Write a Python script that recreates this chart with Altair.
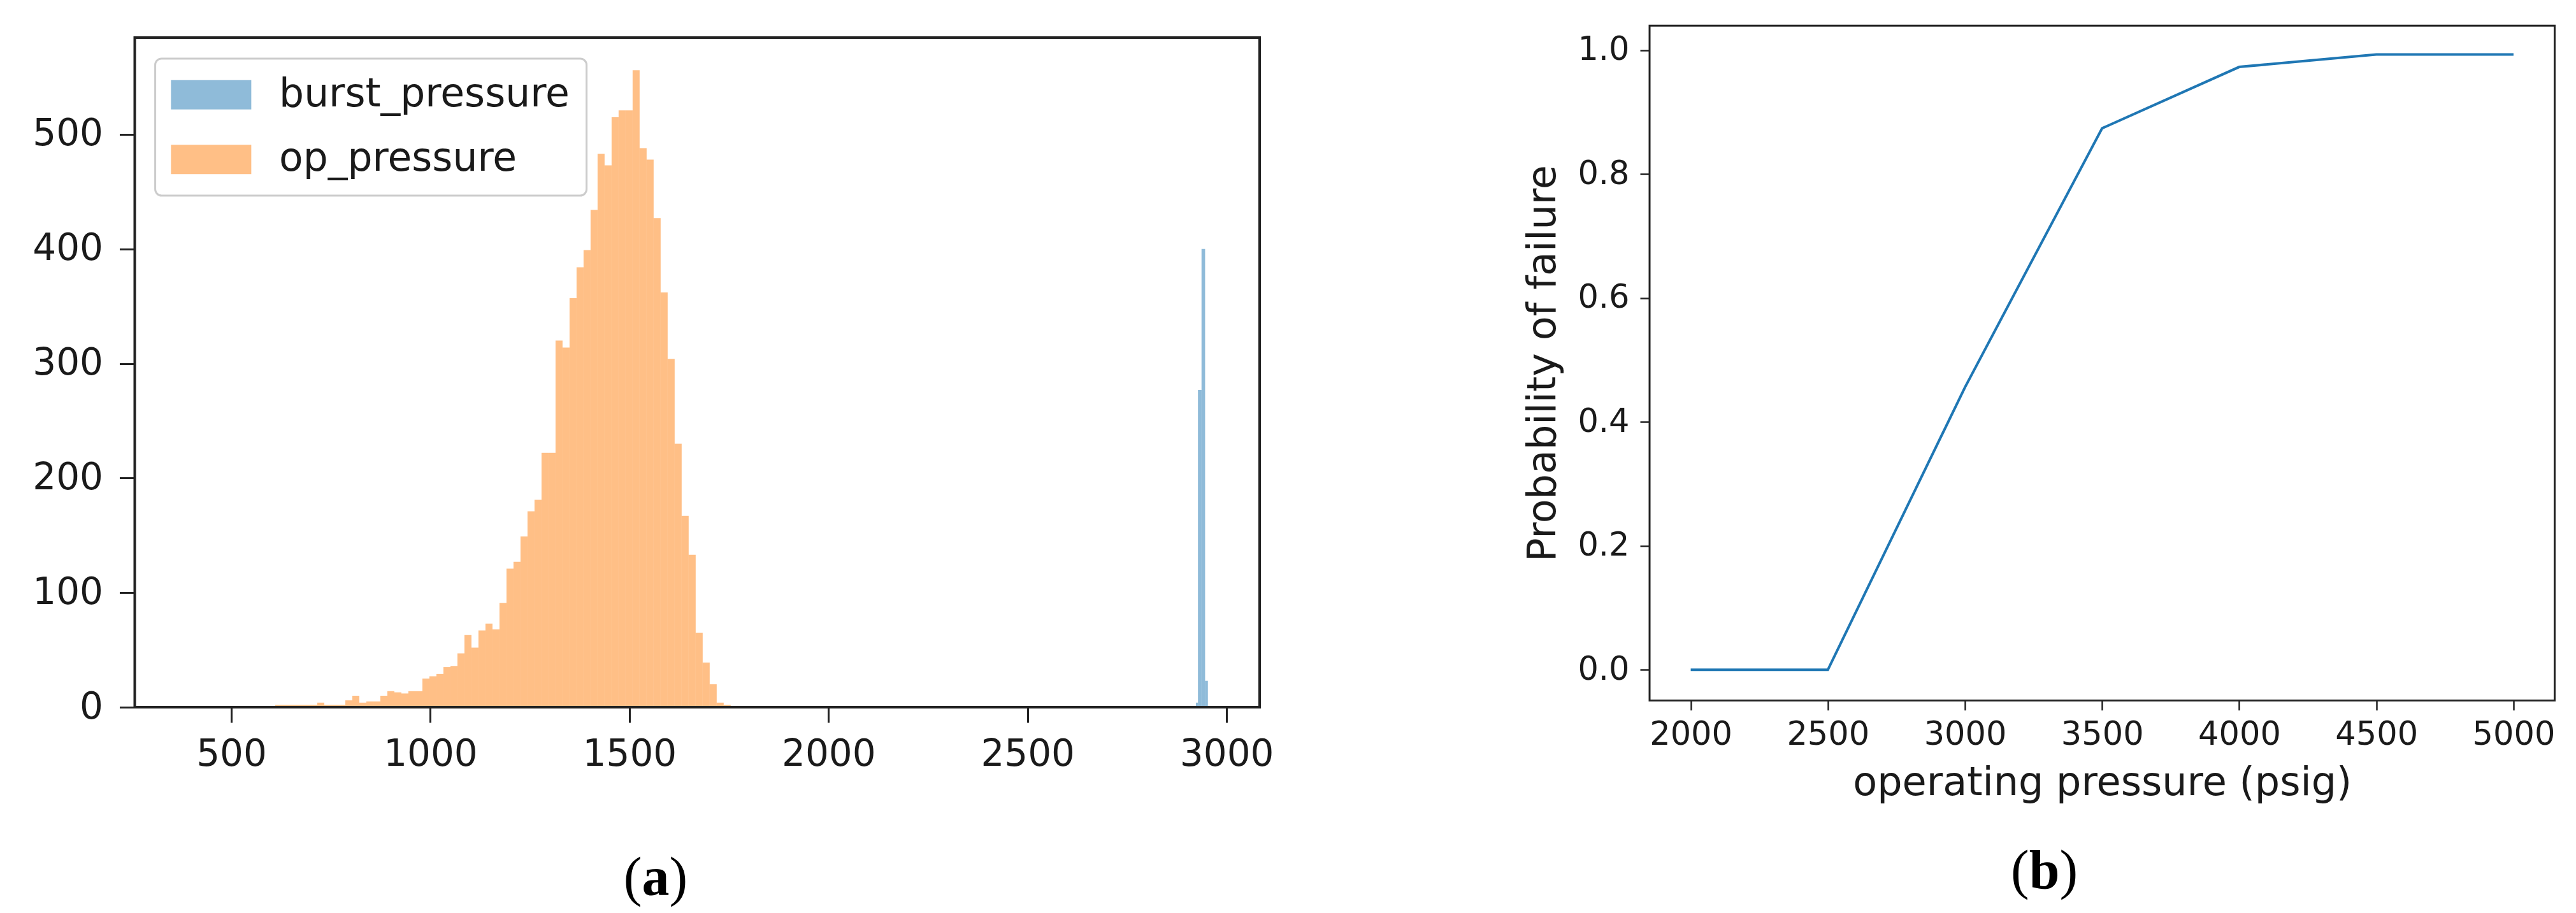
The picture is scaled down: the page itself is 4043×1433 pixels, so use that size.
import altair as alt
import pandas as pd

# ---------------- data: panel (a) histogram ----------------
series_names = ["burst_pressure", "op_pressure"]
series_colors = ["#1f77b4", "#ff7f0e"]

op_bin_start = 610.4
op_bin_width = 17.6
op_counts = [2, 2, 2, 2, 2, 2, 4, 2, 2, 2,
             6, 10, 4, 5, 5, 10, 14, 13, 12, 14,
             14, 25, 27, 29, 35, 36, 47, 63, 52, 67,
             73, 68, 91, 121, 127, 149, 171, 181, 222, 222,
             320, 314, 357, 384, 399, 434, 483, 473, 515, 521,
             521, 556, 488, 478, 427, 362, 304, 230, 167, 133,
             65, 39, 20, 4, 2]

burst_lo = [2923, 2928, 2937, 2946]
burst_hi = [2928, 2937, 2946, 2953]
burst_counts = [4, 277, 400, 23]

hist_x_limits = [257.5, 3083.0]
hist_y_limits = [0, 584.5]
hist_x_ticks = [500, 1000, 1500, 2000, 2500, 3000]
hist_y_ticks = [0, 100, 200, 300, 400, 500]

# ---------------- data: panel (b) line ----------------
op_pressure_psig = [2000, 2500, 3000, 3500, 4000, 4500, 5000]
prob_failure = [0.0, 0.0, 0.456, 0.874, 0.973, 0.993, 0.993]
pf_x_limits = [1850, 5150]
pf_y_limits = [-0.0497, 1.0397]
pf_x_ticks = [2000, 2500, 3000, 3500, 4000, 4500, 5000]
pf_y_ticks = [0.0, 0.2, 0.4, 0.6, 0.8, 1.0]

# ---------------- layout (pixels inside the chart) ----------------
W, H = 4027, 1417
A_X = [203.5, 1969.0]
A_Y = [1102.0, 51.0]
B_X = [2581.0, 4001.5]
B_Y = [1091.6, 32.2]

SANS = "DejaVu Sans"
SERIF = "Liberation Serif"
TXT = "#1a1a1a"
SPINE = "#222222"

rows = []
for lo, hi, c in zip(burst_lo, burst_hi, burst_counts):
    rows.append({"series": "burst_pressure", "lo": lo, "hi": hi, "count": c, "base": 0})
for i, c in enumerate(op_counts):
    lo = op_bin_start + i * op_bin_width
    rows.append({"series": "op_pressure", "lo": lo, "hi": lo + op_bin_width, "count": c, "base": 0})
hist_df = pd.DataFrame(rows)

ax_scale_a = alt.Scale(domain=hist_x_limits, range=A_X, nice=False, zero=False)
ay_scale_a = alt.Scale(domain=hist_y_limits, range=A_Y, nice=False, zero=False)
ax_scale_b = alt.Scale(domain=pf_x_limits, range=B_X, nice=False, zero=False)
ay_scale_b = alt.Scale(domain=pf_y_limits, range=B_Y, nice=False, zero=False)

# wide legend patch (126 x 46 px): unit path scaled by sqrt(size)/2 = 23
legend_shape = "M-2.74,-1H2.74V1H-2.74Z"

hist = alt.Chart(hist_df).mark_rect(fillOpacity=0.5, strokeWidth=0).encode(
    x=alt.X("lo:Q", scale=ax_scale_a,
            axis=alt.Axis(orient="bottom", offset=A_Y[0] - H, values=hist_x_ticks, format="d",
                          domain=False, grid=False, tickSize=24, tickWidth=3, tickColor=SPINE,
                          labelFont=SANS, labelFontSize=58, labelColor=TXT, labelPadding=21,
                          labelFlush=False, labelOverlap=False, title=None)),
    x2="hi:Q",
    y=alt.Y("count:Q", scale=ay_scale_a,
            axis=alt.Axis(orient="left", offset=-A_X[0], values=hist_y_ticks, format="d",
                          domain=False, grid=False, tickSize=24, tickWidth=3, tickColor=SPINE,
                          labelFont=SANS, labelFontSize=58, labelColor=TXT, labelPadding=26,
                          labelFlush=False, labelOverlap=False, title=None)),
    y2="base:Q",
    color=alt.Color("series:N",
                    scale=alt.Scale(domain=series_names, range=series_colors),
                    legend=alt.Legend(title=None, orient="none", legendX=235.6, legendY=84,
                                      direction="vertical", padding=26,
                                      fillColor="white", strokeColor="#cccccc",
                                      symbolType=legend_shape, symbolSize=2116,
                                      symbolOffset=31,
                                      symbolOpacity=0.5, symbolStrokeWidth=0,
                                      labelFont=SANS, labelFontSize=61.5, labelColor=TXT,
                                      labelOffset=76, labelLimit=2000)),
)

frame_a_df = pd.DataFrame({"x0": [hist_x_limits[0]], "x1": [hist_x_limits[1]],
                           "y0": [hist_y_limits[0]], "y1": [hist_y_limits[1]]})
frame_a = alt.Chart(frame_a_df).mark_rect(fillOpacity=0, stroke=SPINE, strokeWidth=4).encode(
    x=alt.X("x0:Q", scale=ax_scale_a, axis=None),
    x2="x1:Q",
    y=alt.Y("y0:Q", scale=ay_scale_a, axis=None),
    y2="y1:Q",
)

pf_df = pd.DataFrame({"pressure": op_pressure_psig, "pf": prob_failure})
line = alt.Chart(pf_df).mark_line(color="#1f77b4", strokeWidth=4).encode(
    x=alt.X("pressure:Q", scale=ax_scale_b,
            axis=alt.Axis(orient="bottom", offset=B_Y[0] - H, values=pf_x_ticks, format="d",
                          domain=False, grid=False, tickSize=15, tickWidth=2.5, tickColor=SPINE,
                          labelFont=SANS, labelFontSize=51, labelColor=TXT, labelPadding=13.5,
                          labelFlush=False, labelOverlap=False,
                          title="operating pressure (psig)", titleFont=SANS, titleFontSize=62,
                          titleFontWeight="normal", titleColor=TXT, titlePadding=20)),
    y=alt.Y("pf:Q", scale=ay_scale_b,
            axis=alt.Axis(orient="left", offset=-B_X[0], values=pf_y_ticks, format=".1f",
                          domain=False, grid=False, tickSize=15, tickWidth=2.5, tickColor=SPINE,
                          labelFont=SANS, labelFontSize=51, labelColor=TXT, labelPadding=17,
                          labelFlush=False, labelOverlap=False,
                          title="Probability of failure", titleFont=SANS, titleFontSize=62,
                          titleFontWeight="normal", titleColor=TXT, titlePadding=22)),
)

frame_b_df = pd.DataFrame({"x0": [pf_x_limits[0]], "x1": [pf_x_limits[1]],
                           "y0": [pf_y_limits[0]], "y1": [pf_y_limits[1]]})
frame_b = alt.Chart(frame_b_df).mark_rect(fillOpacity=0, stroke=SPINE, strokeWidth=3).encode(
    x=alt.X("x0:Q", scale=ax_scale_b, axis=None),
    x2="x1:Q",
    y=alt.Y("y0:Q", scale=ay_scale_b, axis=None),
    y2="y1:Q",
)

CAP_SIZE = 86


def caption(letter, cx, cy, half):
    base = alt.Chart(pd.DataFrame({"k": [0]}))
    left = base.mark_text(text="(", font=SERIF, fontSize=CAP_SIZE, align="right", baseline="middle",
                          color="black").encode(x=alt.value(cx - half), y=alt.value(cy))
    mid = base.mark_text(text=letter, font=SERIF, fontSize=CAP_SIZE, fontWeight="bold", align="center",
                         baseline="middle", color="black").encode(x=alt.value(cx), y=alt.value(cy))
    right = base.mark_text(text=")", font=SERIF, fontSize=CAP_SIZE, align="left", baseline="middle",
                           color="black").encode(x=alt.value(cx + half), y=alt.value(cy))
    return [left, mid, right]


layers = ([hist, frame_a, line, frame_b]
          + caption("a", 1021, 1370.5, 21.5)
          + caption("b", 3200.6, 1359.5, 24))

chart = alt.layer(*layers).resolve_scale(
    x="independent", y="independent"
).properties(
    width=W, height=H, padding=0,
    autosize=alt.AutoSizeParams(type="none"),
    background="white",
).configure_view(
    stroke=None
).configure_legend(
    strokeWidth=3, cornerRadius=10, rowPadding=38.5
)

chart.save("out.html", embed_options={"renderer": "svg", "actions": False})
